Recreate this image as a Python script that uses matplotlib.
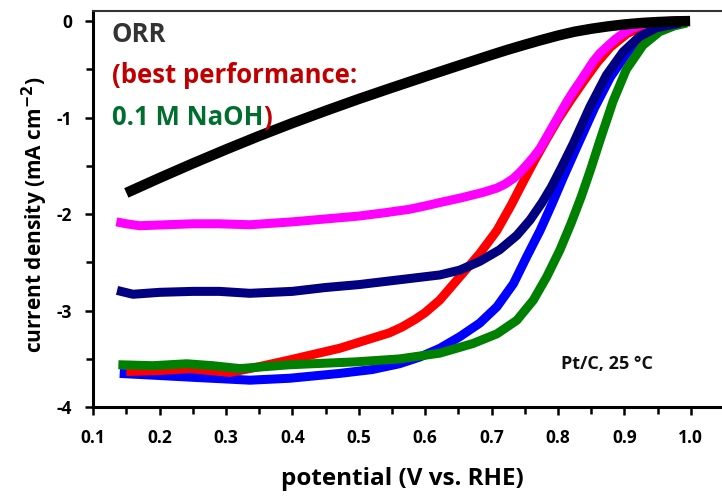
import numpy as np
import matplotlib
matplotlib.use('Agg')
import matplotlib.pyplot as plt
from matplotlib.ticker import MultipleLocator

plt.rcParams['font.family'] = ['Open Sans', 'DejaVu Sans']

# ORR polarisation curves for Pt/C, potential (V vs. RHE) and current density (mA cm-2)
black_v = [0.15, 0.20, 0.25, 0.30, 0.35, 0.40, 0.45, 0.50, 0.55, 0.60, 0.65, 0.70, 0.723, 0.75, 0.773,
           0.80, 0.825, 0.85, 0.875, 0.90, 0.925, 0.95, 0.975, 0.999]
black_j = [-1.78, -1.625, -1.475, -1.33, -1.19, -1.057, -0.93, -0.807, -0.69, -0.575, -0.462, -0.35, -0.30, -0.245, -0.20,
           -0.15, -0.11, -0.08, -0.055, -0.035, -0.02, -0.01, -0.003, 0.0]

magenta_v = [0.135, 0.15, 0.17, 0.21, 0.25, 0.29, 0.336, 0.40, 0.45, 0.50, 0.54, 0.576, 0.60, 0.622, 0.655, 0.687, 0.708,
             0.720, 0.733, 0.743, 0.753, 0.763, 0.773, 0.783, 0.793, 0.803, 0.813, 0.823, 0.833, 0.843, 0.853,
             0.863, 0.873, 0.886, 0.898, 0.911, 0.923, 0.936, 0.948, 0.984]
magenta_j = [-2.08, -2.10, -2.12, -2.11, -2.10, -2.10, -2.11, -2.08, -2.05, -2.02, -1.985, -1.95, -1.915, -1.88, -1.83, -1.775, -1.73,
             -1.69, -1.63, -1.565, -1.49, -1.41, -1.32, -1.20, -1.08, -0.96, -0.84, -0.73, -0.63, -0.525, -0.42,
             -0.335, -0.27, -0.19, -0.13, -0.076, -0.045, -0.02, -0.01, 0.005]

navy_v = [0.136, 0.16, 0.20, 0.25, 0.29, 0.336, 0.40, 0.45, 0.50, 0.561, 0.622, 0.652, 0.682, 0.712, 0.738,
          0.758, 0.776, 0.79, 0.805, 0.823, 0.848, 0.873, 0.898, 0.923, 0.948, 0.984]
navy_j = [-2.79, -2.83, -2.81, -2.80, -2.80, -2.82, -2.80, -2.76, -2.73, -2.68, -2.63, -2.58, -2.49, -2.37, -2.22,
          -2.06, -1.88, -1.72, -1.52, -1.27, -0.89, -0.56, -0.32, -0.16, -0.07, -0.02]

red_v = [0.15, 0.20, 0.246, 0.306, 0.35, 0.396, 0.471, 0.546, 0.565, 0.585, 0.60, 0.622, 0.652, 0.682, 0.708, 0.730, 0.748,
         0.765, 0.783, 0.80, 0.819, 0.839, 0.859, 0.879, 0.904, 0.929, 0.955, 0.99]
red_j = [-3.63, -3.62, -3.60, -3.64, -3.58, -3.51, -3.39, -3.23, -3.17, -3.09, -3.02, -2.89, -2.65, -2.41, -2.17, -1.90, -1.66,
         -1.44, -1.22, -1.02, -0.82, -0.62, -0.43, -0.27, -0.13, -0.05, -0.01, 0.0]

blue_v = [0.14, 0.196, 0.25, 0.336, 0.396, 0.471, 0.52, 0.561, 0.592, 0.622, 0.652, 0.682, 0.708, 0.733, 0.753, 0.773, 0.790,
          0.808, 0.83, 0.855, 0.879, 0.903, 0.928, 0.953, 0.99]
blue_j = [-3.65, -3.67, -3.69, -3.72, -3.70, -3.65, -3.61, -3.55, -3.48, -3.39, -3.27, -3.13, -2.96, -2.72, -2.44, -2.17, -1.91,
          -1.62, -1.28, -0.90, -0.58, -0.34, -0.17, -0.08, -0.02]

green_v = [0.138, 0.19, 0.241, 0.28, 0.321, 0.396, 0.496, 0.561, 0.622, 0.672, 0.708, 0.738, 0.763, 0.783, 0.803,
           0.820, 0.835, 0.849, 0.864, 0.883, 0.903, 0.928, 0.953, 0.975, 0.994]
green_j = [-3.56, -3.57, -3.55, -3.57, -3.60, -3.56, -3.53, -3.50, -3.44, -3.34, -3.24, -3.10, -2.89, -2.65, -2.37,
           -2.09, -1.82, -1.54, -1.22, -0.83, -0.50, -0.25, -0.11, -0.05, -0.02]

fig = plt.figure(figsize=(7.22, 4.96), dpi=100)
ax = fig.add_axes([0.129, 0.179, 0.871, 0.798])

lw = 6.5
style = dict(lw=lw, solid_capstyle='butt', solid_joinstyle='round')
ax.plot(blue_v, blue_j, color='#0000ff', **style)
ax.plot(red_v, red_j, color='#ff0000', **style)
ax.plot(green_v, green_j, color='#008000', **style)
ax.plot(navy_v, navy_j, color='#000080', **style)
ax.plot(magenta_v, magenta_j, color='#ff00ff', **style)
ax.plot(black_v, black_j, color='#000000', lw=7.5, solid_capstyle='butt', solid_joinstyle='round')

ax.set_xlim(0.1, 1.047)
ax.set_ylim(-4, 0.1)

xt = np.round(np.arange(0.1, 1.01, 0.1), 1)
ax.set_xticks(xt)
ax.set_xticklabels([f'{v:.1f}' for v in xt])
ax.xaxis.set_minor_locator(MultipleLocator(0.05))
ax.set_yticks([0, -1, -2, -3, -4])
ax.set_yticklabels(['0', '-1', '-2', '-3', '-4'])
ax.yaxis.set_minor_locator(MultipleLocator(0.5))

ax.tick_params(axis='both', which='major', direction='out', length=6, width=1.8, labelsize=12.5)
ax.tick_params(axis='both', which='minor', direction='out', length=5, width=1.8)
ax.tick_params(axis='x', which='major', pad=10)
ax.tick_params(axis='y', which='major', pad=9)
for lab in ax.get_xticklabels() + ax.get_yticklabels():
    lab.set_fontweight('bold')

ax.spines['right'].set_visible(False)
ax.spines['left'].set_linewidth(2.2)
ax.spines['bottom'].set_linewidth(2.2)
ax.spines['top'].set_linewidth(1.5)
ax.spines['top'].set_color('#333333')

ax.set_xlabel('potential (V vs. RHE)', fontsize=17.5, fontweight='bold')
ax.set_ylabel('current density (mA cm$^{\\mathbf{-2}}$)', fontsize=15, fontweight='bold')
ax.xaxis.set_label_coords(0.491, -0.151)
ax.yaxis.set_label_coords(-0.068, 0.485)

tx = 0.128
fs = 18.5
ax.text(tx, -0.218, 'ORR', fontsize=fs, fontweight='bold', color='#333333', va='baseline')
ax.text(tx, -0.64, '(best performance:', fontsize=fs, fontweight='bold', color='#c00000', va='baseline')
t = ax.text(tx, -1.08, '0.1 M NaOH', fontsize=fs, fontweight='bold', color='#006e2e', va='baseline')
fig.canvas.draw()
bb = t.get_window_extent()
x_end = ax.transData.inverted().transform((bb.x1, bb.y0))[0]
ax.text(x_end, -1.08, ')', fontsize=fs, fontweight='bold', color='#c00000', va='baseline')

ax.text(0.805, -3.60, 'Pt/C, 25 °C', fontsize=13, fontweight='bold', color='#111111', va='baseline')

fig.savefig('out.png', dpi=100)
